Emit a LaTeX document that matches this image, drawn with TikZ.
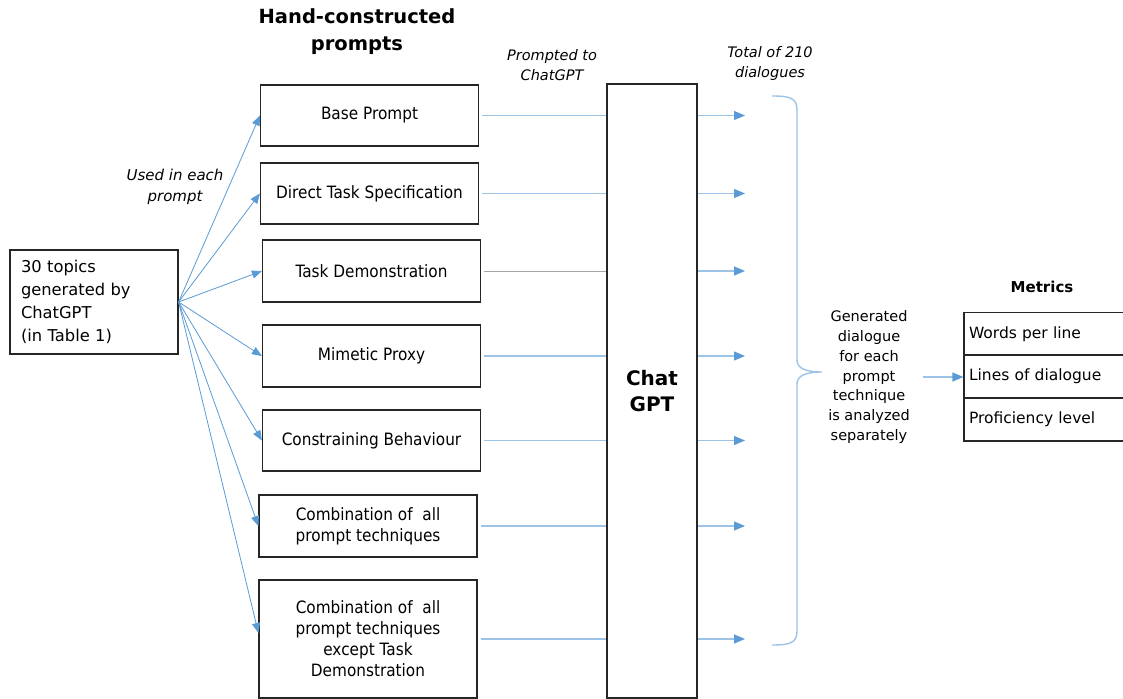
\documentclass[tikz,border=0pt]{standalone}
\usepackage{fontspec}
\setmainfont{DejaVu Sans}
\newfontfamily\narrowfont[FakeStretch=0.9]{DejaVu Sans}
\usetikzlibrary{arrows.meta}
\definecolor{arrblue}{HTML}{5B9BD5}
\definecolor{lineblue}{HTML}{9DC3E6}
\definecolor{linegray}{HTML}{A6A6A6}
\begin{document}
\begin{tikzpicture}[x=1pt,y=-1pt,
  box/.style={draw=black!85, line width=1.2pt, inner sep=0pt, align=center},
  pbox/.style={box, minimum width=218pt, minimum height=61pt, font=\narrowfont\fontsize{17}{21}\selectfont},
  fan/.style={draw=arrblue, line width=0.8pt, -{Triangle[length=10pt,width=8pt]}},
  hl/.style={draw=lineblue, line width=1.2pt},
  outarr/.style={draw=lineblue, line width=1.2pt, -{Triangle[length=11pt,width=9pt,color=arrblue]}},
  lbl/.style={font=\itshape\fontsize{14.5}{20}\selectfont, align=center, inner sep=0pt},
  mrow/.style={box, minimum width=165pt, minimum height=43pt, text width=155pt, align=left, font=\fontsize{15.5}{19}\selectfont}
]
\useasboundingbox[fill=white] (0,0) rectangle (1123,698);

% title
\node[font=\bfseries\fontsize{19.5}{27}\selectfont, align=center, inner sep=0pt] (title) at (357,32) {Hand-constructed\\prompts};

% topics
\node[box, minimum width=168pt, minimum height=104pt, text width=146pt, align=left,
      font=\fontsize{16.3}{23}\selectfont] (topics) at (94,302)
  {30 topics\\generated by\\ChatGPT\\(in Table 1)};

% prompt boxes
\node[pbox] (p1) at (369.5,115.5) {Base Prompt};
\node[pbox] (p2) at (369.5,193.5) {Direct Task Specification};
\node[pbox, minimum height=62pt] (p3) at (371.5,271) {Task Demonstration};
\node[pbox, minimum height=62pt] (p4) at (371.5,356) {Mimetic Proxy};
\node[pbox] (p5) at (371.5,440.5) {Constraining Behaviour};
\node[pbox, minimum height=62pt] (p6) at (368,526) {Combination of\ \ all\\prompt techniques};
\node[pbox, minimum height=118pt] (p7) at (368,639) {Combination of\ \ all\\prompt techniques\\except Task\\Demonstration};

% ChatGPT
\node[box, minimum width=90pt, minimum height=614pt, font=\bfseries\fontsize{20}{26}\selectfont] (chat) at (652,391) {Chat\\GPT};

% labels
\node[lbl, font=\itshape\fontsize{15}{21}\selectfont] (used) at (175,187) {Used in each\\prompt};
\node[lbl] (prompted) at (552,65) {Prompted to\\ChatGPT};
\node[lbl] (total) at (770,64) {Total of 210\\dialogues};

% fan arrows
\draw[fan] (topics.east) -- (p1.west);
\draw[fan] (topics.east) -- (p2.west);
\draw[fan] (topics.east) -- (p3.west);
\draw[fan] (topics.east) -- (p4.west);
\draw[fan] (topics.east) -- (p5.west);
\draw[fan] (topics.east) -- (p6.west);
\draw[fan] (topics.east) -- ([yshift=6pt]p7.west);

% lines into ChatGPT
\coordinate (tgt) at (745,0);
\foreach \p in {p1,p2,p4,p5,p6,p7}{
  \draw[hl] ([xshift=3pt]\p.east) -- (\p.east -| chat.west);
}
\draw[draw=linegray, line width=0.9pt] ([xshift=3pt]p3.east) -- (p3.east -| chat.west);
\foreach \p in {p1,p2,p3,p4,p5,p6,p7}{
  \draw[outarr] (\p.east -| chat.east) -- (\p.east -| tgt);
}

% brace
\coordinate (bt) at (772,96);
\coordinate (bb) at (772,645);
\coordinate (btip) at (822,372);
\draw[lineblue, line width=1.4pt] (bt) .. controls (790,96) and (797,98) .. (797,110)
  -- (797,360) .. controls (797,368) and (805,372) .. (btip)
  .. controls (805,372) and (797,376) .. (797,384)
  -- (797,631) .. controls (797,643) and (790,645) .. (bb);

% generated text
\node[align=center, inner sep=0pt, font=\fontsize{14.5}{19.8}\selectfont] (gen) at (869,377)
  {Generated\\dialogue\\for each\\prompt\\technique\\is analyzed\\separately};

% metrics
\node[font=\bfseries\fontsize{15}{19}\selectfont, inner sep=0pt] (mt) at (1042,287) {Metrics};
\node[mrow] (m1) at (1046.5,334) {Words per line};
\node[mrow] (m2) at (1046.5,376.5) {Lines of dialogue};
\node[mrow] (m3) at (1046.5,419.5) {Proficiency level};

\coordinate (gstart) at (923,377);
\draw[outarr] (gstart) -- (gstart -| m2.west);
\end{tikzpicture}
\end{document}
